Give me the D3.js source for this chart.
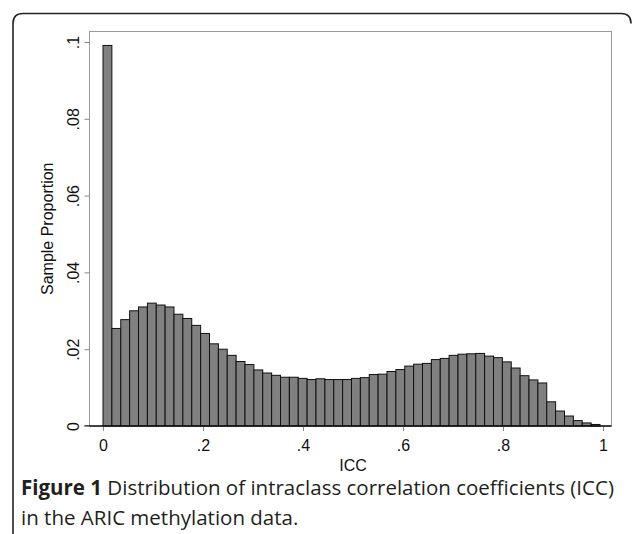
<!DOCTYPE html>
<html>
<head>
<meta charset="utf-8">
<script src="https://cdn.jsdelivr.net/npm/d3@7"></script>
<style>
  html, body { margin: 0; padding: 0; background: #fff; }
  svg { display: block; }
</style>
</head>
<body>
<script>
// ---- data ----
const proportions = [
  0.0991, 0.0254, 0.0277, 0.0300, 0.0310, 0.0320, 0.0315, 0.0310,
  0.0291, 0.0280, 0.0262, 0.0241, 0.0214, 0.0200, 0.0184, 0.0168,
  0.0160, 0.0146, 0.0138, 0.0132, 0.0127, 0.0127, 0.0124, 0.0121,
  0.0123, 0.0121, 0.0121, 0.0121, 0.0124, 0.0126, 0.0134, 0.0135,
  0.0142, 0.0147, 0.0156, 0.0161, 0.0163, 0.0173, 0.0176, 0.0184,
  0.0187, 0.0188, 0.0189, 0.0182, 0.0178, 0.0167, 0.0151, 0.0131,
  0.0120, 0.0112, 0.0063, 0.0039, 0.0026, 0.0014, 0.0008, 0.0004
];
const iccRange = [0, 0.994];           // range of ICC covered by the bins
const xTicks = [0, 0.2, 0.4, 0.6, 0.8, 1];
const xTickLabels = ["0", ".2", ".4", ".6", ".8", "1"];
const yTicks = [0, 0.02, 0.04, 0.06, 0.08, 0.1];
const yTickLabels = ["0", ".02", ".04", ".06", ".08", ".1"];
const xTitle = "ICC";
const yTitle = "Sample Proportion";
const captionBold = "Figure 1";
const captionLine1 = " Distribution of intraclass correlation coefficients (ICC)";
const captionLine2 = "in the ARIC methylation data.";

// ---- layout ----
const W = 633, H = 534;
const svg = d3.select("body").append("svg").attr("width", W).attr("height", H);

// outer rounded frame (open at the bottom)
const fx = 13, fy = 13.5, r = 10, fr = 631;
svg.append("path")
  .attr("d", `M${fx},${H} L${fx},${fy + r} Q${fx},${fy} ${fx + r},${fy} L${fr - r},${fy} Q${fr},${fy} ${fr},${fy + r}`)
  .attr("fill", "none").attr("stroke", "#222").attr("stroke-width", 1.6);

const plot = { left: 89.5, right: 611.5, top: 31.5, bottom: 426 };
const x = d3.scaleLinear().domain([0, 1]).range([103, 603]);
const y = d3.scaleLinear().domain([0, 0.1]).range([426, 42]);

// plot region frame
svg.append("rect")
  .attr("x", plot.left).attr("y", plot.top)
  .attr("width", plot.right - plot.left).attr("height", plot.bottom - plot.top)
  .attr("fill", "none").attr("stroke", "#9a9a9a").attr("stroke-width", 1);

// bins
const binW = (iccRange[1] - iccRange[0]) / proportions.length;
const bins = proportions.map((p, i) => ({
  lo: iccRange[0] + i * binW,
  hi: iccRange[0] + (i + 1) * binW,
  p
}));

svg.append("g").selectAll("rect").data(bins).join("rect")
  .attr("x", d => x(d.lo))
  .attr("width", d => x(d.hi) - x(d.lo))
  .attr("y", d => y(d.p))
  .attr("height", d => y(0) - y(d.p))
  .attr("fill", "#808080")
  .attr("stroke", "#111")
  .attr("stroke-width", 1);

// x axis
const xAxis = d3.axisBottom(x).tickValues(xTicks)
  .tickFormat((d, i) => xTickLabels[i]).tickSize(5).tickPadding(9);
const gx = svg.append("g").attr("transform", `translate(0,${plot.bottom})`).call(xAxis);
gx.select(".domain").remove();
gx.selectAll(".tick line").attr("stroke", "#888");
gx.selectAll(".tick text").attr("font-family", "Liberation Sans, Arial, sans-serif")
  .attr("font-size", 16).attr("fill", "#111");
svg.append("line")
  .attr("x1", plot.left - 5).attr("x2", plot.right)
  .attr("y1", plot.bottom).attr("y2", plot.bottom)
  .attr("stroke", "#111").attr("stroke-width", 1.6);

// y axis
const yAxis = d3.axisLeft(y).tickValues(yTicks)
  .tickFormat((d, i) => yTickLabels[i]).tickSize(5).tickPadding(4);
const gy = svg.append("g").attr("transform", `translate(${plot.left},0)`).call(yAxis);
gy.select(".domain").remove();
gy.selectAll(".tick line").attr("stroke", "#888");
gy.selectAll(".tick text")
  .attr("font-family", "Liberation Sans, Arial, sans-serif")
  .attr("font-size", 16).attr("fill", "#111")
  .attr("text-anchor", "middle")
  .attr("x", null).attr("dy", null)
  .attr("transform", "translate(-11,0) rotate(-90)");

// axis titles
svg.append("text")
  .attr("x", x(0.5)).attr("y", 471)
  .attr("text-anchor", "middle")
  .attr("font-family", "Liberation Sans, Arial, sans-serif")
  .attr("font-size", 16).attr("fill", "#111")
  .text(xTitle);
svg.append("text")
  .attr("transform", `translate(53,${(plot.top + plot.bottom) / 2}) rotate(-90)`)
  .attr("text-anchor", "middle")
  .attr("font-family", "Liberation Sans, Arial, sans-serif")
  .attr("font-size", 16).attr("fill", "#111")
  .text(yTitle);

// caption
const cap = svg.append("text")
  .attr("font-family", "Open Sans, Noto Sans, sans-serif")
  .attr("font-size", 20.5).attr("fill", "#231f20");
const l1 = cap.append("tspan").attr("x", 21).attr("y", 495);
l1.append("tspan").attr("font-weight", "bold").text(captionBold);
cap.append("tspan").text(captionLine1);
cap.append("tspan").attr("x", 21).attr("y", 525).text(captionLine2);
</script>
</body>
</html>
